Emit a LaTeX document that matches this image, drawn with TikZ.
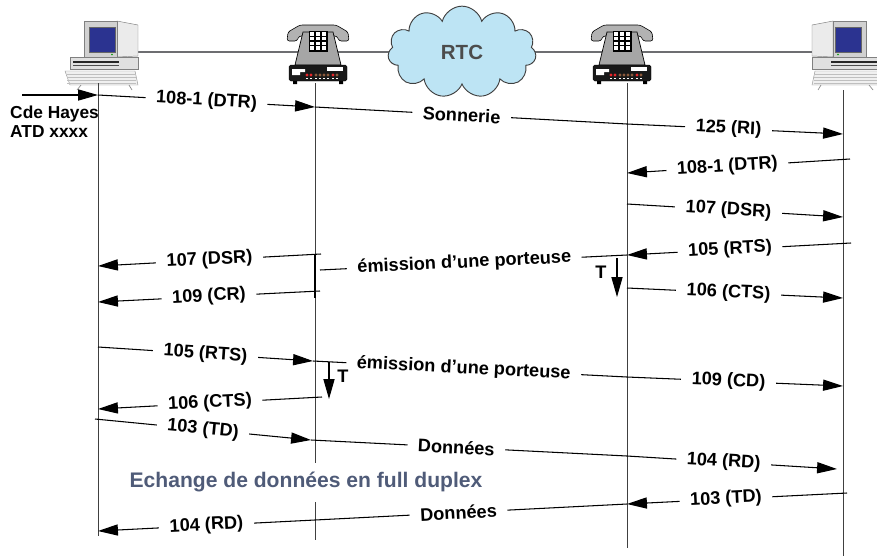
\documentclass[tikz,border=0pt]{standalone}
\usepackage{fontspec}
\setmainfont{Liberation Sans}
\usetikzlibrary{arrows.meta,shapes.symbols}

\definecolor{reseau}{HTML}{6D6E71}
\definecolor{nuage}{HTML}{BDE4F4}
\definecolor{ecran}{HTML}{2B3390}
\definecolor{legende}{HTML}{4F5B78}
\definecolor{diode}{HTML}{E8262B}
\definecolor{diodeoff}{HTML}{8C5A3C}

\tikzset{
  vie/.style={draw=black!75, line width=0.85pt},
  sig/.style={draw=black, line width=0.9pt},
  fl/.style={sig, -{Triangle[length=17pt,width=9.5pt]}},
  lbl/.style={fill=white, inner xsep=9pt, inner ysep=1pt, sloped,
    font=\fontsize{15.5}{18}\selectfont\bfseries},
  tlbl/.style={inner sep=0pt, font=\fontsize{15.5}{18}\selectfont\bfseries},
  % ordinateur
  poste/.pic={
    % clavier
    \draw[black!40, fill=black!6, line width=0.4pt]
      (-46,19) -- (24,19) -- (27,33) -- (-41,33) -- cycle;
    \foreach \k in {22,25,28,31}
      \draw[black!25, line width=0.3pt] (-44,\k) -- (25,\k);
    \draw[black!45, line width=0.6pt] (-30,33) -- (-34,38) (18,33) -- (21,38);
    % unite centrale
    \draw[black!50, fill=black!12, line width=0.4pt] (-41,5) rectangle (27,17);
    \fill[black!85] (-38,9) rectangle (8,10.5);
    \fill[black!70] (-38,12.5) rectangle (8,13.5);
    % moniteur
    \draw[black!50, fill=black!8, line width=0.4pt]
      (6,-31) -- (27,-27) -- (27,4) -- (6,5) -- cycle;
    \draw[black!50, fill=black!18, line width=0.4pt] (-27,-31) rectangle (6,5);
    \draw[black!60, fill=ecran, line width=0.5pt] (-22,-25) rectangle (4,0);
    \fill[green!60!black] (1,2.5) circle (0.9);
  },
  % telephone + modem
  telmodem/.pic={
    % combine
    \draw[black, fill=black!30, line width=0.5pt, rounded corners=2]
      (-31,-11) -- (-30,-20) -- (-18,-27) -- (18,-27) -- (30,-20) -- (31,-11)
      -- (21,-11) -- (19,-16) -- (-19,-16) -- (-21,-11) -- cycle;
    % socle
    \draw[black, fill=black!35, line width=0.6pt]
      (-15,-20) -- (15,-20) -- (23,13) -- (-23,13) -- cycle;
    % clavier
    \draw[black, fill=black, line width=0.5pt] (-9,-21) rectangle (9,-1);
    \foreach \i in {0,1,2}
      \foreach \j in {0,1,2,3}
        \fill[white] (-8+\i*5.8,-20+\j*4.8) rectangle ++(4.3,3.5);
    % boitier
    \draw[black, fill=black!90, rounded corners=1.5] (-29,13) rectangle (29,29);
    \fill[black] (-25,29) rectangle (-21,32) (21,29) rectangle (25,32);
    \fill[white] (9,15) rectangle (25,19);
    \fill[white] (-26,17) -- (-13,17) -- (-13,20) -- (-18,20) -- (-18,23) -- (-26,23) -- cycle;
    \foreach \x/\c in {-11/diode,-7/diode,-2/diodeoff,2/diodeoff,6/diodeoff,10/diodeoff,15/diode,19/diodeoff}
      \fill[\c] (\x,23) circle (1.6);
    \foreach \x in {-11,-7,-2,2,6,10,15,19}
      \fill[white] (\x-0.6,26) rectangle ++(1.2,1);
  }
}

\begin{document}
\begin{tikzpicture}[x=0.03cm, y=-0.03cm]
\useasboundingbox (0,0) rectangle (877,556);

% liaison entre les deux postes
\coordinate (pcA-res) at (138,52);
\coordinate (pcB-res) at (818,52);
\draw[reseau, line width=1.7pt] (pcA-res) -- (pcB-res);

% materiel
\pic at (111,52) {poste};
\pic[xscale=-1] at (839,52) {poste};
\pic at (318,52) {telmodem};
\pic at (622,52) {telmodem};
\node[cloud, cloud puffs=11, aspect=1.6, draw=black!75, fill=nuage, line width=0.8pt,
  minimum width=4.45cm, minimum height=2.75cm, inner sep=0pt, text=black!70,
  font=\fontsize{17.5}{20}\selectfont\bfseries] (rtc) at (462,52) {RTC};

% lignes de vie
\coordinate (pcA-h) at (98,83);   \coordinate (pcA-b) at (98,536);
\coordinate (mA-h) at (315,83);   \coordinate (mA-c1) at (315,463);
\coordinate (mA-c2) at (315,502); \coordinate (mA-b) at (315,540);
\coordinate (mB-h) at (627,83);   \coordinate (mB-b) at (627,548);
\coordinate (pcB-h) at (843,90);  \coordinate (pcB-b) at (843,556);
\draw[vie] (pcA-h) -- (pcA-b);
\draw[vie] (mA-h) -- (mA-c1);
\draw[vie] (mA-c2) -- (mA-b);
\draw[vie] (mB-h) -- (mB-b);
\draw[vie] (pcB-h) -- (pcB-b);

% points des echanges
\coordinate (hayes) at (22,95);
\coordinate (a1) at (98,95);   \coordinate (b1) at (315,107);
\coordinate (c1) at (627,124); \coordinate (d1) at (843,134);
\coordinate (d2) at (850,159); \coordinate (c2) at (627,173);
\coordinate (c3) at (627,204); \coordinate (d3) at (843,217);
\coordinate (d4) at (851,243); \coordinate (c4) at (627,255);
\coordinate (b4) at (320,270);
\coordinate (b5) at (321,254); \coordinate (a5) at (98,266);
\coordinate (b6) at (320,291); \coordinate (a6) at (98,302);
\coordinate (c6) at (627,288); \coordinate (d6) at (843,298);
\coordinate (a7) at (98,347);  \coordinate (b7) at (313,361);
\coordinate (c7) at (627,377); \coordinate (d7) at (843,386);
\coordinate (b8) at (322,397); \coordinate (a8) at (98,409);
\coordinate (a9) at (95,419);  \coordinate (b9) at (311,440);
\coordinate (c9) at (627,456); \coordinate (d9) at (837,469);
\coordinate (d10) at (847,493); \coordinate (c10) at (627,504);
\coordinate (b10) at (315,520); \coordinate (a10) at (98,531);

% porteuse et temporisations
\coordinate (barre-h) at (315,254); \coordinate (barre-b) at (315,298);
\coordinate (tA-h) at (617,258);    \coordinate (tA-b) at (617,297);
\coordinate (tB-h) at (329,362);    \coordinate (tB-b) at (329,399);

% commande Hayes
\draw[fl] (hayes) -- (a1);
\node[anchor=west, align=left, inner sep=0pt,
  font=\fontsize{14.8}{16.5}\selectfont\bfseries] (hayesTxt) at (10,122) {Cde Hayes\\ATD xxxx};

% appel
\draw[fl] (a1) -- node[lbl] (dtrA) {108-1 (DTR)} (b1);
\draw[sig] (b1) -- node[lbl, pos=0.47] (sonn) {Sonnerie} (c1);
\draw[fl] (c1) -- node[lbl, pos=0.47] (riB) {125 (RI)} (d1);
\draw[fl] (d2) -- node[lbl, pos=0.55] (dtrB) {108-1 (DTR)} (c2);
\draw[fl] (c3) -- node[lbl, pos=0.47] (dsrB) {107 (DSR)} (d3);
\draw[fl] (d4) -- node[lbl, pos=0.54] (rtsB) {105 (RTS)} (c4);

% porteuse du modem appele
\draw[sig] (c4) -- node[lbl, pos=0.53] (portB) {émission d’une porteuse} (b4);
\draw[black, line width=2pt] (barre-h) -- (barre-b);
\draw[fl] (tA-h) -- (tA-b);
\node[tlbl] (tA) at (601,272) {T};
\draw[fl] (b5) -- node[lbl] (dsrA) {107 (DSR)} (a5);
\draw[fl] (b6) -- node[lbl] (crA) {109 (CR)} (a6);
\draw[fl] (c6) -- node[lbl, pos=0.47] (ctsB) {106 (CTS)} (d6);

% porteuse du modem appelant
\draw[fl] (a7) -- node[lbl] (rtsA) {105 (RTS)} (b7);
\draw[sig] (b7) -- node[lbl, pos=0.48] (portA) {émission d’une porteuse} (c7);
\draw[fl] (c7) -- node[lbl, pos=0.47] (cdB) {109 (CD)} (d7);
\draw[fl] (tB-h) -- (tB-b);
\node[tlbl] (tB) at (343,376) {T};
\draw[fl] (b8) -- node[lbl] (ctsA) {106 (CTS)} (a8);

% donnees
\draw[fl] (a9) -- node[lbl] (tdA) {103 (TD)} (b9);
\draw[sig] (b9) -- node[lbl, pos=0.46] (donA) {Données} (c9);
\draw[fl] (c9) -- node[lbl, pos=0.46] (rdB) {104 (RD)} (d9);
\node[text=legende, font=\fontsize{18}{21}\selectfont\bfseries] (duplex) at (306,482)
  {Echange de données en full duplex};
\draw[fl] (d10) -- node[lbl, pos=0.55] (tdB) {103 (TD)} (c10);
\draw[sig] (c10) -- node[lbl, pos=0.54] (donB) {Données} (b10);
\draw[fl] (b10) -- node[lbl] (rdA) {104 (RD)} (a10);
\end{tikzpicture}
\end{document}
